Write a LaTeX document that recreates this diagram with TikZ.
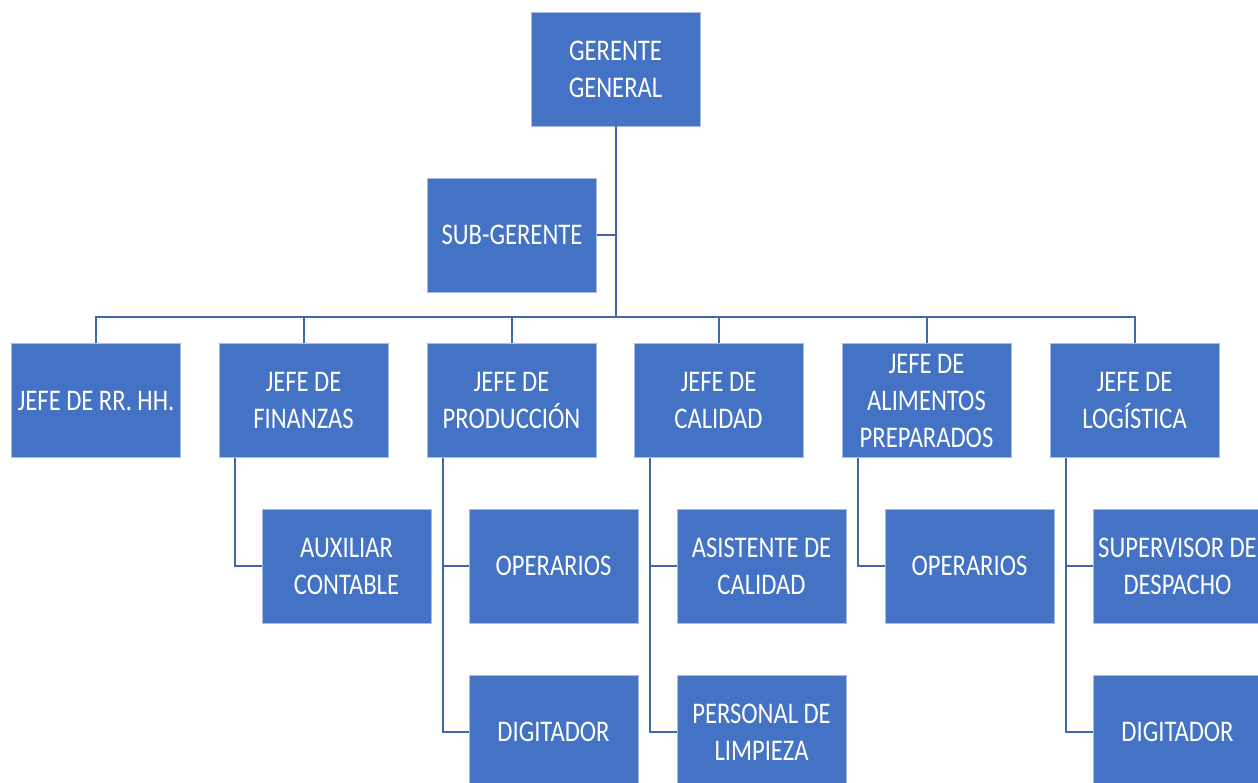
\documentclass[tikz,border=0pt]{standalone}
\usepackage{fontspec}
\setmainfont{Carlito}[FakeStretch=0.82]
\definecolor{boxblue}{HTML}{4472C4}
\definecolor{boxedge}{HTML}{A9BDE3}
\definecolor{linkblue}{HTML}{4266AC}
\newcommand\orgfont{\fontsize{30}{37}\selectfont\spaceskip=5.5pt plus 1pt minus 1pt\relax}
\tikzset{
  orgbox/.style={rectangle, fill=boxblue, draw=boxedge, line width=0.8pt,
    minimum width=169pt, minimum height=114pt, inner sep=0pt,
    align=center, text=white, font=\orgfont},
  link/.style={draw=linkblue, line width=2pt}
}
\begin{document}
\begin{tikzpicture}[x=1pt,y=-1pt]
\useasboundingbox (0,0) rectangle (1258,783);
\clip (0,0) rectangle (1258,783);
\fill[white] (0,0) rectangle (1258,783);
% top
\node[orgbox] (gg) at (615.5,69) {GERENTE\\GENERAL};
\node[orgbox] (sub) at (512,235) {SUB-GERENTE};
% level 2
\node[orgbox] (rrhh) at (96,400.5) {JEFE DE RR. HH.};
\node[orgbox] (fin) at (303.5,400.5) {JEFE DE\\FINANZAS};
\node[orgbox] (prod) at (511.5,400.5) {JEFE DE\\PRODUCCIÓN};
\node[orgbox] (cal) at (718.5,400.5) {JEFE DE\\CALIDAD};
\node[orgbox] (ali) at (926.5,400.5) {JEFE DE\\ALIMENTOS\\PREPARADOS};
\node[orgbox] (log) at (1134.5,400.5) {JEFE DE\\LOGÍSTICA};
% level 3
\node[orgbox] (aux) at (346.5,566) {AUXILIAR\\CONTABLE};
\node[orgbox] (op1) at (553.5,566) {OPERARIOS};
\node[orgbox] (asi) at (761.5,566) {ASISTENTE DE\\CALIDAD};
\node[orgbox] (op2) at (969.5,566) {OPERARIOS};
\node[orgbox] (sup) at (1177.5,566) {SUPERVISOR DE\\DESPACHO};
% level 4
\node[orgbox] (dig1) at (553.5,732) {DIGITADOR};
\node[orgbox] (per) at (761.5,732) {PERSONAL DE\\LIMPIEZA};
\node[orgbox] (dig2) at (1177.5,732) {DIGITADOR};
% connectors
\coordinate (bus) at (615.5,317);
\draw[link] (gg.south) -- (bus);
\draw[link] (sub.east) -- (sub.east -| gg.south);
\draw[link] (rrhh.north) |- (bus) -| (log.north);
\draw[link] (fin.north) -- (fin.north |- bus);
\draw[link] (prod.north) -- (prod.north |- bus);
\draw[link] (cal.north) -- (cal.north |- bus);
\draw[link] (ali.north) -- (ali.north |- bus);
% children
\coordinate (finx) at ([xshift=16pt]fin.south west);
\coordinate (prodx) at ([xshift=16pt]prod.south west);
\coordinate (calx) at ([xshift=16pt]cal.south west);
\coordinate (alix) at ([xshift=16pt]ali.south west);
\coordinate (logx) at ([xshift=16pt]log.south west);
\draw[link] (finx) |- (aux.west);
\draw[link] (prodx) |- (dig1.west);
\draw[link] (op1.west) -- (op1.west -| prodx);
\draw[link] (calx) |- (per.west);
\draw[link] (asi.west) -- (asi.west -| calx);
\draw[link] (alix) |- (op2.west);
\draw[link] (logx) |- (dig2.west);
\draw[link] (sup.west) -- (sup.west -| logx);
\end{tikzpicture}
\end{document}
